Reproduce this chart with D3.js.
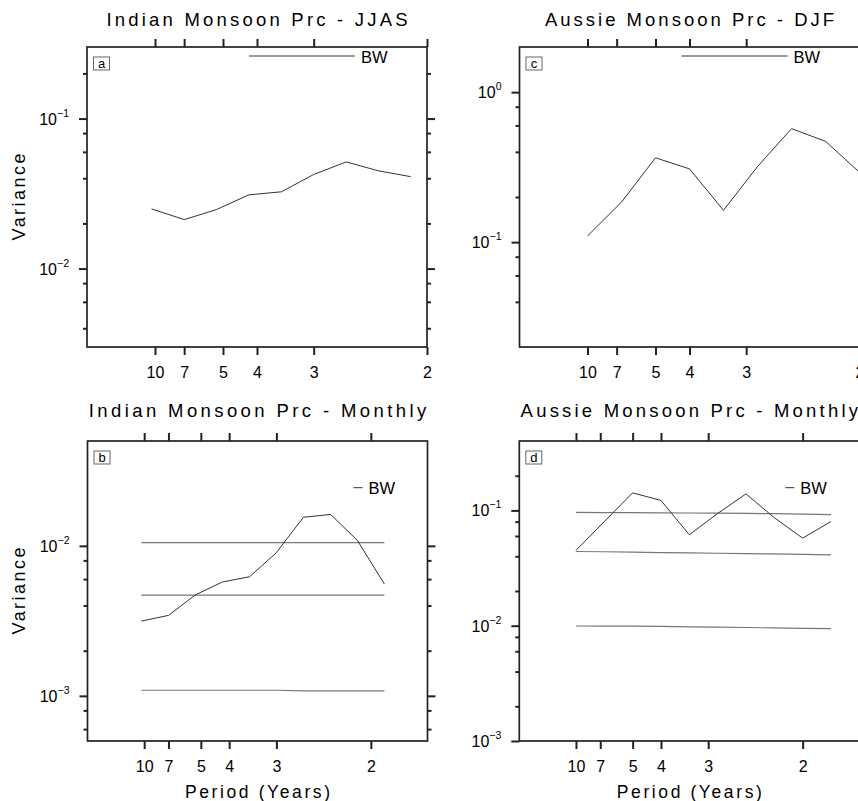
<html>
<head>
<script src="https://cdn.jsdelivr.net/npm/d3@7"></script>
<style>
  body { margin: 0; background: #fff; }
  text { font-family: "Liberation Sans", Arial, Helvetica, sans-serif; fill: #000; }
</style>
</head>
<body>
<script>
// period ticks on the frequency axis (years)
const periodTicks = [10, 7, 5, 4, 3, 2];

// a: Indian monsoon JJAS
const freqA = [0.095, 0.143, 0.190, 0.238, 0.286, 0.333, 0.381, 0.429, 0.476];
const varA  = [0.0250, 0.0212, 0.0247, 0.0310, 0.0325, 0.0423, 0.0514, 0.0448, 0.0410];

// b: Indian monsoon monthly
const freqB = [0.095, 0.143, 0.190, 0.238, 0.286, 0.333, 0.381, 0.429, 0.476, 0.524];
const varB  = [0.00315, 0.00344, 0.0047, 0.00574, 0.00622, 0.00898, 0.0155, 0.0162, 0.0109, 0.00556];
const bHigh = [0.0105, 0.0105, 0.0105, 0.0105, 0.0105, 0.0105, 0.0105, 0.0105, 0.0105, 0.0105];
const bMid  = [0.0047, 0.0047, 0.0047, 0.0047, 0.0047, 0.0047, 0.0047, 0.0047, 0.0047, 0.0047];
const bLow  = [0.00109, 0.00109, 0.00109, 0.00109, 0.00109, 0.00109, 0.00108, 0.00108, 0.00108, 0.00108];

// c: Aussie monsoon DJF
const freqC = [0.10, 0.15, 0.20, 0.25, 0.30, 0.35, 0.40, 0.45, 0.50];
const varC  = [0.110, 0.185, 0.365, 0.308, 0.163, 0.319, 0.571, 0.470, 0.292];

// d: Aussie monsoon monthly
const freqD = [0.10, 0.15, 0.20, 0.25, 0.30, 0.35, 0.40, 0.45, 0.50, 0.55];
const varD  = [0.045, 0.080, 0.142, 0.122, 0.0615, 0.094, 0.139, 0.0864, 0.0575, 0.080];
const dHigh = [0.0960, 0.0958, 0.0955, 0.0952, 0.0950, 0.0947, 0.0943, 0.0937, 0.0928, 0.0918];
const dMid  = [0.0440, 0.0438, 0.0435, 0.0431, 0.0428, 0.0425, 0.0422, 0.0419, 0.0415, 0.0412];
const dLow  = [0.00994, 0.00992, 0.00990, 0.00985, 0.00978, 0.00972, 0.00965, 0.00957, 0.00948, 0.00942];

// y ticks
const majorA = [0.1, 0.01];
const minorA = [0.2, 0.08, 0.06, 0.04, 0.02, 0.008, 0.006, 0.004];
const majorB = [0.01, 0.001];
const minorB = [0.008, 0.006, 0.004, 0.002, 0.0008, 0.0006];
const majorC = [1, 0.1];
const minorC = [0.8, 0.6, 0.4, 0.2, 0.08, 0.06, 0.04];
const majorD = [0.1, 0.01, 0.001];
const minorD = [0.2, 0.08, 0.06, 0.04, 0.02, 0.008, 0.006, 0.004, 0.002];

const W = 858, H = 801;
const svg = d3.select("body").append("svg")
  .attr("width", W)
  .attr("height", H);

const panels = [
  { tag: "a", title: "Indian Monsoon Prc - JJAS", left: 87, top: 47, xMax: 0.5, yDom: [0.003, 0.3],
    freq: freqA, main: varA, flat: [], major: majorA, minor: minorA, longKey: true, ylab: true, xlab: false, titleY: 26 },
  { tag: "c", title: "Aussie Monsoon Prc - DJF", left: 519.5, top: 47, xMax: 0.5, yDom: [0.02, 2],
    freq: freqC, main: varC, flat: [], major: majorC, minor: minorC, longKey: true, ylab: false, xlab: false, titleY: 26 },
  { tag: "b", title: "Indian Monsoon Prc - Monthly", left: 87.5, top: 441, xMax: 0.6, yDom: [0.0005, 0.05],
    freq: freqB, main: varB, flat: [bHigh, bMid, bLow], major: majorB, minor: minorB, longKey: false, ylab: true, xlab: true, titleY: 417 },
  { tag: "d", title: "Aussie Monsoon Prc - Monthly", left: 519.3, top: 441, xMax: 0.6, yDom: [0.001, 0.4],
    freq: freqD, main: varD, flat: [dHigh, dMid, dLow], major: majorD, minor: minorD, longKey: false, ylab: false, xlab: true, titleY: 417 }
];

const pw = 340, ph = 300;

panels.forEach(drawPanel);

function drawPanel(p) {
  let g = svg.append("g").attr("transform", `translate(${p.left},${p.top})`);

  let x = d3.scaleLinear().domain([0, p.xMax]).range([0, pw]);
  let y = d3.scaleLog().domain(p.yDom).range([ph, 0]);

  let xt = periodTicks.map(d => 1 / d);

  // x axes (bottom labelled, top bare)
  let bx = g.append("g").attr("transform", `translate(0,${ph})`)
    .call(d3.axisBottom(x).tickValues(xt).tickSize(8).tickFormat((d, i) => periodTicks[i]));
  bx.selectAll("text").attr("y", 19.5).attr("dy", "0.71em").style("font-size", "16px");
  g.append("g").call(d3.axisTop(x).tickValues(xt).tickSize(8).tickFormat(""));

  // y axes, major + minor on both sides
  g.append("g").call(d3.axisLeft(y).tickValues(p.major).tickSize(8).tickFormat(""));
  g.append("g").call(d3.axisLeft(y).tickValues(p.minor).tickSize(4).tickFormat(""));
  g.append("g").attr("transform", `translate(${pw},0)`)
    .call(d3.axisRight(y).tickValues(p.major).tickSize(8).tickFormat(""));
  g.append("g").attr("transform", `translate(${pw},0)`)
    .call(d3.axisRight(y).tickValues(p.minor).tickSize(4).tickFormat(""));

  g.selectAll(".domain").remove();
  g.selectAll(".tick line").attr("stroke", "#222").attr("stroke-width", 2);

  // y labels 10^n
  let yl = g.selectAll(".ylab").data(p.major).enter()
    .append("text")
    .attr("x", -18)
    .attr("y", d => y(d) + 6)
    .attr("text-anchor", "end")
    .style("font-size", "16px");
  yl.append("tspan").text("10");
  yl.append("tspan")
    .attr("dy", -8)
    .style("font-size", "10.5px")
    .text(d => {
      let e = Math.round(Math.log10(d));
      return e < 0 ? "\u2212" + (-e) : String(e);
    });

  // frame
  g.append("rect")
    .attr("width", pw).attr("height", ph)
    .attr("fill", "none").attr("stroke", "#222").attr("stroke-width", 1.7);

  // significance lines
  let line = d3.line().x((d, i) => x(p.freq[i])).y(d => y(d));
  p.flat.forEach(s => {
    g.append("path").datum(s)
      .attr("d", line)
      .attr("fill", "none")
      .attr("stroke", "#777")
      .attr("stroke-width", 1.2);
  });

  // spectrum
  g.append("path").datum(p.main)
    .attr("d", line)
    .attr("fill", "none")
    .attr("stroke", "#333")
    .attr("stroke-width", 1);

  // panel tag box
  g.append("rect")
    .attr("x", 6.5).attr("y", 10)
    .attr("width", 16).attr("height", 13)
    .attr("fill", "#fff").attr("stroke", "#666").attr("stroke-width", 1);
  g.append("text")
    .attr("x", 14.5).attr("y", 21)
    .attr("text-anchor", "middle")
    .style("font-size", "13px")
    .text(p.tag);

  // legend
  let ky = p.longKey ? 9 : 46.7;
  let kx0 = p.longKey ? 162 : 266;
  let kx1 = p.longKey ? 268 : 275;
  g.append("line")
    .attr("x1", kx0).attr("x2", kx1)
    .attr("y1", ky).attr("y2", ky)
    .attr("stroke", "#333").attr("stroke-width", 1);
  g.append("text")
    .attr("x", kx1 + 6)
    .attr("y", ky + 6.5)
    .style("font-size", "16.5px")
    .text("BW");

  // title
  svg.append("text")
    .attr("x", p.left + pw / 2)
    .attr("y", p.titleY)
    .attr("text-anchor", "middle")
    .attr("textLength", p.title.length * 12.05)
    .attr("lengthAdjust", "spacing")
    .style("font-size", "18.5px")
    .text(p.title);

  if (p.ylab) {
    svg.append("text")
      .attr("transform", `translate(25,${p.top + ph / 2}) rotate(-90)`)
      .attr("text-anchor", "middle")
      .attr("textLength", 87)
      .attr("lengthAdjust", "spacing")
      .style("font-size", "18px")
      .text("Variance");
  }

  if (p.xlab) {
    svg.append("text")
      .attr("x", p.left + x(0.3))
      .attr("y", 797.5)
      .attr("text-anchor", "middle")
      .attr("textLength", 145)
      .attr("lengthAdjust", "spacing")
      .style("font-size", "17.5px")
      .text("Period (Years)");
  }
}
</script>
</body>
</html>
